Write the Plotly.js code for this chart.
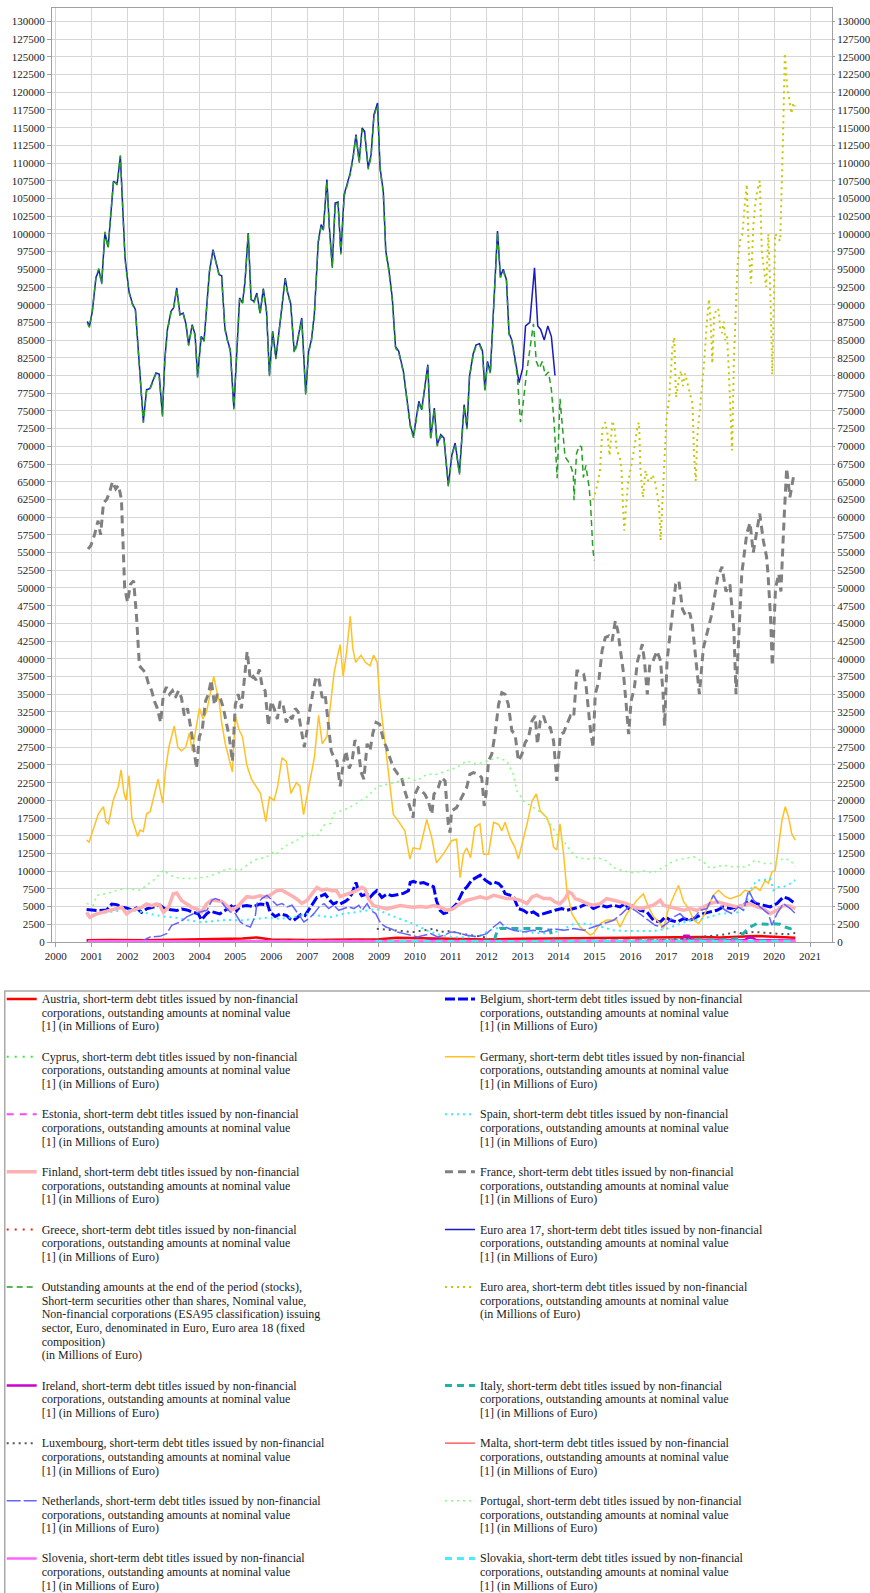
<!DOCTYPE html>
<html>
<head>
<meta charset="utf-8">
<script src="https://cdn.plot.ly/plotly-3.0.1.min.js"></script>
<style>html,body{margin:0;padding:0;background:#fff;}#chart{width:870px;height:1593px;}</style>
</head>
<body>
<div id="chart"></div>
<script>
// ---------- tick labels ----------
const yearTicks = [2000,2001,2002,2003,2004,2005,2006,2007,2008,2009,2010,2011,2012,2013,2014,2015,2016,2017,2018,2019,2020,2021];
const yearLabels = ["2000","2001","2002","2003","2004","2005","2006","2007","2008","2009","2010","2011","2012","2013","2014","2015","2016","2017","2018","2019","2020","2021"];

// ---------- series values: [decimal year, millions of euro] ----------
const austria = [[2000.86,250],[2001.5,300],[2002.5,250],[2003.5,350],[2004.5,450],[2005.2,500],[2005.6,650],[2006.0,350],[2007.0,300],[2008.0,350],[2009.0,400],[2009.5,600],[2010.0,550],[2010.5,500],[2011.0,350],[2012.0,350],[2013.0,450],[2014.0,500],[2015.0,550],[2016.0,600],[2017.0,650],[2017.5,750],[2018.0,700],[2018.5,650],[2019.0,700],[2019.5,850],[2020.0,750],[2020.59,600]];

const belgium = [[2000.86,4580],[2001.14,4440],[2001.42,4530],[2001.56,5370],[2001.70,5280],[2001.84,4900],[2001.97,4810],[2002.11,4530],[2002.25,4810],[2002.39,4200],[2002.53,4670],[2002.72,4900],[2002.90,5200],[2003.04,4670],[2003.18,4530],[2003.37,4440],[2003.51,4670],[2003.65,4530],[2003.83,4200],[2003.97,3970],[2004.06,3130],[2004.20,3970],[2004.30,4340],[2004.43,4200],[2004.57,3970],[2004.71,4440],[2004.85,4900],[2004.95,5370],[2005.04,4440],[2005.13,5000],[2005.32,5140],[2005.50,5000],[2005.69,5370],[2005.83,5280],[2005.88,5600],[2005.97,4200],[2006.11,3600],[2006.25,3970],[2006.43,3740],[2006.52,3270],[2006.62,3040],[2006.76,3600],[2006.85,3970],[2006.94,3740],[2007.13,5280],[2007.27,6300],[2007.41,6540],[2007.50,6770],[2007.64,5840],[2007.73,5370],[2007.82,5600],[2007.92,5370],[2008.06,5740],[2008.15,6070],[2008.24,6770],[2008.36,8400],[2008.43,7240],[2008.52,6540],[2008.66,6770],[2008.75,6300],[2008.85,6860],[2008.94,7240],[2009.08,6300],[2009.22,6770],[2009.36,6540],[2009.50,6680],[2009.68,6860],[2009.82,7240],[2009.87,8400],[2009.96,8550],[2010.10,8270],[2010.24,8400],[2010.42,7940],[2010.52,7800],[2010.60,5840],[2010.70,4480],[2010.80,4010],[2010.94,4250],[2011.03,4720],[2011.17,5420],[2011.35,7310],[2011.45,7780],[2011.58,8730],[2011.82,9430],[2011.96,8730],[2012.10,8250],[2012.19,8490],[2012.33,8250],[2012.42,7780],[2012.51,6840],[2012.65,6600],[2012.74,6460],[2012.88,4720],[2013.02,4480],[2013.16,4010],[2013.30,4250],[2013.44,3770],[2013.58,4010],[2013.72,4250],[2013.90,4480],[2014.09,4720],[2014.23,4480],[2014.42,4720],[2014.60,4950],[2014.79,5420],[2014.97,4720],[2015.16,5190],[2015.34,4950],[2015.53,5190],[2015.71,4950],[2015.85,5420],[2015.95,4720],[2016.09,5190],[2016.27,4480],[2016.46,4250],[2016.64,3070],[2016.83,2830],[2016.97,3540],[2017.11,3070],[2017.30,2830],[2017.48,3300],[2017.66,3070],[2017.85,3540],[2018.03,4010],[2018.22,4250],[2018.41,4480],[2018.59,4950],[2018.78,4720],[2018.96,4950],[2019.15,5190],[2019.33,5900],[2019.52,5420],[2019.70,5190],[2019.89,4950],[2020.08,5420],[2020.26,6370],[2020.40,6130],[2020.54,5660],[2020.59,5420]];

const cyprus = [[2000.90,10],[2006.0,20],[2012.0,30],[2020.59,20]];

const germany = [[2000.86,14400],[2000.93,14100],[2001.05,16000],[2001.19,18100],[2001.33,19100],[2001.40,17000],[2001.47,16700],[2001.60,20000],[2001.74,21900],[2001.82,24300],[2001.90,21000],[2001.96,20000],[2002.04,23500],[2002.12,17500],[2002.28,14900],[2002.35,15800],[2002.44,15600],[2002.53,18100],[2002.63,18400],[2002.77,21400],[2002.85,23000],[2002.98,19600],[2003.05,24000],[2003.15,27500],[2003.30,30500],[2003.40,27500],[2003.50,27000],[2003.62,27500],[2003.72,29500],[2003.80,27000],[2003.90,30000],[2004.00,33000],[2004.10,31500],[2004.20,32500],[2004.30,35000],[2004.40,37500],[2004.48,35500],[2004.55,34000],[2004.62,31000],[2004.72,28000],[2004.82,26000],[2004.92,24000],[2005.00,32000],[2005.10,30000],[2005.20,29000],[2005.32,25000],[2005.45,23000],[2005.58,22000],[2005.70,21000],[2005.85,17000],[2005.95,20500],[2006.08,20000],[2006.18,22000],[2006.30,26000],[2006.42,25500],[2006.55,21000],[2006.70,22500],[2006.80,22000],[2006.90,18000],[2007.05,22000],[2007.20,26000],[2007.32,32000],[2007.42,28000],[2007.55,29000],[2007.62,32000],[2007.75,38000],[2007.85,40500],[2007.92,42000],[2008.00,37500],[2008.10,41000],[2008.20,46000],[2008.27,41500],[2008.35,39500],[2008.50,40500],[2008.62,39500],[2008.75,39000],[2008.85,40500],[2008.95,39500],[2009.02,34500],[2009.20,26500],[2009.40,18000],[2009.55,17000],[2009.72,15700],[2009.86,11700],[2009.95,13300],[2010.14,13100],[2010.33,17300],[2010.47,14700],[2010.60,11200],[2010.79,12400],[2011.02,14300],[2011.16,14500],[2011.26,9100],[2011.35,12400],[2011.44,13300],[2011.55,11900],[2011.67,16200],[2011.81,16700],[2011.91,12400],[2012.05,12400],[2012.19,16900],[2012.33,16600],[2012.42,15700],[2012.51,16900],[2012.65,14700],[2012.79,13300],[2012.88,11700],[2012.98,13800],[2013.12,16600],[2013.26,19900],[2013.38,20900],[2013.49,18500],[2013.67,17600],[2013.77,16200],[2013.86,13400],[2013.95,13000],[2014.04,16700],[2014.14,12400],[2014.23,7300],[2014.37,4000],[2014.60,2100],[2014.88,1000],[2014.97,1200],[2015.16,2600],[2015.34,3100],[2015.62,3100],[2015.71,2100],[2015.90,4000],[2016.04,5000],[2016.18,5900],[2016.36,6800],[2016.50,5000],[2016.64,3600],[2016.83,2600],[2016.92,1900],[2017.06,4700],[2017.20,6400],[2017.34,8000],[2017.48,5700],[2017.62,4700],[2017.76,3100],[2017.90,2600],[2018.03,3600],[2018.17,5000],[2018.31,6600],[2018.45,7300],[2018.64,6400],[2018.78,6100],[2018.92,6400],[2019.05,6600],[2019.19,7300],[2019.33,7100],[2019.47,7800],[2019.61,7300],[2019.75,8700],[2019.84,8300],[2019.94,9900],[2020.03,10100],[2020.12,13400],[2020.22,17200],[2020.31,19100],[2020.40,17700],[2020.49,15300],[2020.59,14400]];

const estonia = [[2000.90,10],[2005.0,20],[2010.0,30],[2015.0,40],[2020.59,30]];

const spain = [[2000.86,3740],[2001.14,3970],[2001.50,4200],[2001.88,4530],[2002.25,4440],[2002.62,3970],[2003.00,3600],[2003.37,3410],[2003.74,3040],[2004.02,2800],[2004.39,2940],[2004.76,3130],[2005.13,3040],[2005.50,3270],[2005.87,3410],[2006.25,3270],[2006.62,3500],[2006.99,3970],[2007.36,3740],[2007.64,3500],[2008.01,3970],[2008.38,4200],[2008.66,4440],[2008.94,4670],[2009.22,3970],[2009.59,3270],[2009.96,2570],[2010.33,1630],[2010.70,1000],[2011.07,650],[2011.45,700],[2011.82,950],[2012.10,1700],[2012.40,2100],[2012.80,1700],[2013.20,1350],[2013.60,1200],[2014.00,1500],[2014.40,2500],[2014.79,2600],[2015.16,2200],[2015.53,1650],[2015.90,1550],[2016.27,1550],[2016.64,1550],[2017.01,1870],[2017.50,2800],[2018.00,3270],[2018.50,3970],[2019.00,4200],[2019.20,4800],[2019.33,7310],[2019.52,8730],[2019.70,8730],[2019.89,8960],[2019.98,7310],[2020.08,7780],[2020.26,7780],[2020.45,8250],[2020.59,8730]];

const finland = [[2000.86,4200],[2000.95,3500],[2001.14,3970],[2001.33,4200],[2001.50,4440],[2001.70,4670],[2001.84,4900],[2001.97,3970],[2002.11,4440],[2002.25,4670],[2002.39,4900],[2002.53,5370],[2002.67,5140],[2002.81,5370],[2002.90,5140],[2003.00,4200],[2003.14,4900],[2003.27,6770],[2003.37,6910],[2003.51,5840],[2003.65,5370],[2003.79,4900],[2003.92,4670],[2004.06,4200],[2004.20,5370],[2004.34,5930],[2004.48,5840],[2004.62,5740],[2004.76,5140],[2004.90,4530],[2005.04,4900],[2005.18,5740],[2005.32,6400],[2005.50,6300],[2005.69,6540],[2005.87,6300],[2006.01,6770],[2006.15,7240],[2006.29,7330],[2006.43,7000],[2006.57,6540],[2006.71,6070],[2006.85,5460],[2006.99,5840],[2007.13,6770],[2007.27,7710],[2007.41,7330],[2007.55,7470],[2007.69,7240],[2007.82,7240],[2007.92,6400],[2008.10,6770],[2008.24,7000],[2008.38,7240],[2008.52,7710],[2008.61,7470],[2008.71,6070],[2008.85,5140],[2009.03,4900],[2009.22,4670],[2009.40,4900],[2009.59,5140],[2009.77,5000],[2009.96,4900],[2010.14,5000],[2010.33,4900],[2010.52,5140],[2010.70,4950],[2010.89,4480],[2011.07,4720],[2011.26,5420],[2011.45,5900],[2011.63,6130],[2011.82,6370],[2012.00,6130],[2012.19,6600],[2012.37,6370],[2012.56,6130],[2012.74,6130],[2012.93,5900],[2013.12,5420],[2013.26,6370],[2013.39,6600],[2013.58,6130],[2013.77,6130],[2013.90,5660],[2014.04,5420],[2014.18,6130],[2014.28,7080],[2014.37,6840],[2014.46,6130],[2014.60,5900],[2014.79,5420],[2014.97,5190],[2015.16,5420],[2015.34,6130],[2015.53,5900],[2015.71,5660],[2015.90,5420],[2016.09,4950],[2016.27,4720],[2016.46,4950],[2016.64,5190],[2016.83,5900],[2016.92,5190],[2017.11,4950],[2017.30,4720],[2017.48,4480],[2017.66,4720],[2017.85,4480],[2018.03,4950],[2018.22,5420],[2018.41,5660],[2018.59,5420],[2018.78,5190],[2018.96,4950],[2019.15,5190],[2019.33,5420],[2019.52,4950],[2019.70,4720],[2019.89,4010],[2020.08,4480],[2020.26,5190],[2020.45,5050],[2020.59,4720]];

const france = [[2000.90,55500],[2000.98,56000],[2001.08,57500],[2001.18,59500],[2001.25,57500],[2001.33,62000],[2001.42,62500],[2001.50,63500],[2001.58,65000],[2001.67,64000],[2001.75,64500],[2001.83,62500],[2001.92,50000],[2002.00,48000],[2002.08,50500],[2002.17,51000],[2002.25,46000],[2002.33,39000],[2002.42,38500],[2002.50,38000],[2002.58,36500],[2002.67,35500],[2002.75,34000],[2002.83,33000],[2002.92,31000],[2003.00,35000],[2003.08,36000],[2003.17,35000],[2003.25,35500],[2003.33,34500],[2003.42,35500],[2003.50,34500],[2003.58,32000],[2003.67,33000],[2003.75,30500],[2003.83,28000],[2003.92,24500],[2004.00,29000],[2004.08,30000],[2004.17,34000],[2004.25,35000],[2004.33,37000],[2004.42,33500],[2004.50,35000],[2004.58,34500],[2004.67,33000],[2004.75,31000],[2004.83,29000],[2004.92,25500],[2005.00,33500],[2005.08,35000],[2005.17,33000],[2005.25,37000],[2005.33,41000],[2005.42,37000],[2005.50,37500],[2005.58,37000],[2005.67,38500],[2005.75,36000],[2005.83,35500],[2005.92,30500],[2006.00,34000],[2006.08,33000],[2006.17,31500],[2006.25,34000],[2006.33,33500],[2006.42,31000],[2006.50,32000],[2006.58,31500],[2006.67,33000],[2006.75,32500],[2006.83,30000],[2006.92,27500],[2007.00,30000],[2007.08,33000],[2007.17,35500],[2007.25,37500],[2007.33,37000],[2007.42,34500],[2007.50,35000],[2007.58,31500],[2007.67,27000],[2007.75,26000],[2007.83,25500],[2007.92,22000],[2008.00,25000],[2008.08,27000],[2008.17,24500],[2008.25,25500],[2008.33,28500],[2008.42,27500],[2008.50,24000],[2008.58,23000],[2008.67,28000],[2008.75,27000],[2008.83,29500],[2008.92,31000],[2009.02,30750],[2009.13,28400],[2009.21,27450],[2009.30,26040],[2009.40,24630],[2009.53,23680],[2009.63,23220],[2009.72,21330],[2009.81,19920],[2009.95,17570],[2010.00,20860],[2010.09,21800],[2010.19,21330],[2010.28,20860],[2010.37,19920],[2010.47,18040],[2010.53,20860],[2010.65,21800],[2010.74,23220],[2010.84,22740],[2010.93,16620],[2010.98,15450],[2011.02,18510],[2011.16,18980],[2011.30,20390],[2011.44,21800],[2011.53,23680],[2011.63,23920],[2011.77,23680],[2011.86,23220],[2011.93,19220],[2011.98,20860],[2012.05,25570],[2012.14,26510],[2012.23,29340],[2012.33,33570],[2012.42,35220],[2012.51,34980],[2012.60,33570],[2012.70,29810],[2012.79,29340],[2012.88,25570],[2012.98,26510],[2013.07,28160],[2013.16,28870],[2013.26,31220],[2013.35,31930],[2013.41,27920],[2013.49,31220],[2013.58,31930],[2013.67,30510],[2013.77,30280],[2013.86,28400],[2013.95,22750],[2014.05,29340],[2014.14,29570],[2014.23,30750],[2014.33,31930],[2014.42,31690],[2014.51,38280],[2014.60,38280],[2014.70,37810],[2014.77,35930],[2014.88,30280],[2014.96,27450],[2015.02,34980],[2015.12,36870],[2015.21,41100],[2015.30,42990],[2015.40,43230],[2015.49,42520],[2015.58,45350],[2015.65,43930],[2015.70,42050],[2015.80,38280],[2015.89,33100],[2015.95,29340],[2016.02,34050],[2016.11,35930],[2016.20,39690],[2016.33,42050],[2016.39,39690],[2016.47,34980],[2016.54,39220],[2016.63,39690],[2016.74,41100],[2016.84,39690],[2016.91,34980],[2016.95,30510],[2017.02,39690],[2017.16,45810],[2017.26,50530],[2017.35,51000],[2017.45,47000],[2017.55,46000],[2017.65,46500],[2017.72,45000],[2017.80,41000],[2017.92,35000],[2018.03,41500],[2018.15,44000],[2018.25,46000],[2018.35,49000],[2018.43,51500],[2018.55,53000],[2018.66,49500],[2018.77,50500],[2018.88,44000],[2018.94,35000],[2019.05,47000],[2019.10,52000],[2019.24,57700],[2019.33,59200],[2019.42,55000],[2019.51,58000],[2019.60,60500],[2019.70,56700],[2019.79,54400],[2019.83,52000],[2019.90,46000],[2019.95,39000],[2020.04,50000],[2020.13,52000],[2020.19,49500],[2020.28,60000],[2020.35,66900],[2020.40,64700],[2020.44,62800],[2020.54,65700],[2020.58,65400]];

const greece = [[2000.90,100],[2004.0,120],[2008.0,150],[2011.0,60],[2014.0,40],[2017.0,30],[2020.59,30]];

const euroArea17 = [[2000.88,87650],[2000.94,86950],[2001.02,89060],[2001.12,93770],[2001.20,94950],[2001.28,93070],[2001.37,100130],[2001.46,98150],[2001.61,107430],[2001.71,107050],[2001.80,110960],[2001.93,96600],[2002.04,91890],[2002.13,90240],[2002.22,89300],[2002.33,82000],[2002.44,73530],[2002.53,78000],[2002.62,78140],[2002.79,80350],[2002.88,80210],[2002.97,74470],[2003.04,82470],[2003.11,86470],[2003.21,89060],[2003.28,89530],[2003.37,92360],[2003.46,88600],[2003.55,88830],[2003.63,87180],[2003.70,84360],[2003.80,87180],[2003.88,85770],[2003.95,79880],[2004.05,85530],[2004.13,84920],[2004.28,94720],[2004.38,97770],[2004.46,96130],[2004.55,94250],[2004.62,94100],[2004.71,86710],[2004.79,84830],[2004.86,83650],[2004.96,75410],[2005.04,83180],[2005.12,90950],[2005.20,90240],[2005.27,93300],[2005.36,100130],[2005.44,90710],[2005.52,90480],[2005.60,91650],[2005.69,88830],[2005.78,92270],[2005.87,89060],[2005.95,80120],[2006.04,86240],[2006.13,82470],[2006.25,87650],[2006.39,93770],[2006.46,91650],[2006.54,90240],[2006.64,83410],[2006.71,84360],[2006.85,88120],[2006.96,77530],[2007.04,83410],[2007.12,85060],[2007.20,88600],[2007.31,98950],[2007.39,101310],[2007.45,100600],[2007.55,107660],[2007.62,100840],[2007.70,95420],[2007.78,104370],[2007.86,104510],[2007.94,97300],[2008.03,105550],[2008.13,107430],[2008.20,108610],[2008.28,110960],[2008.36,114020],[2008.45,110250],[2008.53,114960],[2008.60,114490],[2008.70,109310],[2008.78,111190],[2008.86,116840],[2008.96,118490],[2009.03,109310],[2009.12,106020],[2009.19,97550],[2009.27,95190],[2009.37,90950],[2009.46,84120],[2009.55,83410],[2009.68,80590],[2009.79,76350],[2009.87,73060],[2009.96,71410],[2010.03,74000],[2010.11,76350],[2010.19,75180],[2010.36,81530],[2010.44,71180],[2010.54,75410],[2010.62,70230],[2010.72,71640],[2010.81,71180],[2010.93,64500],[2011.03,68820],[2011.12,70470],[2011.24,66230],[2011.37,75880],[2011.45,72590],[2011.52,79880],[2011.62,83000],[2011.70,84300],[2011.80,84500],[2011.88,83500],[2011.95,78000],[2012.02,82000],[2012.10,80500],[2012.20,90000],[2012.30,100400],[2012.38,94000],[2012.46,95000],[2012.55,93500],[2012.62,86000],[2012.70,85000],[2012.80,82000],[2012.90,79000],[2013.00,81000],[2013.08,87000],[2013.20,87500],[2013.33,95200],[2013.42,87000],[2013.50,86500],[2013.60,85000],[2013.70,87000],[2013.80,85500],[2013.90,80000]];

const euroArea18 = [[2000.88,87400],[2000.94,86800],[2001.02,89200],[2001.12,93900],[2001.20,95100],[2001.28,92900],[2001.37,100300],[2001.46,98000],[2001.61,107600],[2001.71,106900],[2001.80,111100],[2001.93,96400],[2002.04,91700],[2002.13,90100],[2002.22,89100],[2002.33,81800],[2002.44,73300],[2002.53,77800],[2002.62,78000],[2002.79,80200],[2002.88,80000],[2002.97,74200],[2003.04,82300],[2003.11,86300],[2003.21,88900],[2003.28,89400],[2003.37,92200],[2003.46,88400],[2003.55,88700],[2003.63,87000],[2003.70,84200],[2003.80,87000],[2003.88,85600],[2003.95,79700],[2004.05,85400],[2004.13,84800],[2004.28,94600],[2004.38,97600],[2004.46,96000],[2004.55,94100],[2004.62,93900],[2004.71,86500],[2004.79,84700],[2004.86,83500],[2004.96,75200],[2005.04,83000],[2005.12,90800],[2005.20,90100],[2005.27,93100],[2005.36,100000],[2005.44,90500],[2005.52,90300],[2005.60,91500],[2005.69,88700],[2005.78,92100],[2005.87,88900],[2005.95,79900],[2006.04,86100],[2006.13,82300],[2006.25,87500],[2006.39,93600],[2006.46,91500],[2006.54,90100],[2006.64,83200],[2006.71,84200],[2006.85,87900],[2006.96,77300],[2007.04,83200],[2007.12,84900],[2007.20,88400],[2007.31,98700],[2007.39,101000],[2007.45,100400],[2007.55,107400],[2007.62,100600],[2007.70,95200],[2007.78,104100],[2007.86,104300],[2007.94,97100],[2008.03,105300],[2008.13,107200],[2008.20,108400],[2008.28,110700],[2008.36,113800],[2008.45,110000],[2008.53,114700],[2008.60,114200],[2008.70,109100],[2008.78,110900],[2008.86,116600],[2008.96,118200],[2009.03,109100],[2009.12,105800],[2009.19,97300],[2009.27,94900],[2009.37,90700],[2009.46,83900],[2009.55,83200],[2009.68,80400],[2009.79,76100],[2009.87,72800],[2009.96,71200],[2010.03,73800],[2010.11,76100],[2010.19,75000],[2010.36,81300],[2010.44,71000],[2010.54,75200],[2010.62,70000],[2010.72,71400],[2010.81,71000],[2010.93,64300],[2011.03,68600],[2011.12,70300],[2011.24,66000],[2011.37,75700],[2011.45,72400],[2011.52,79700],[2011.62,82800],[2011.70,84100],[2011.80,84300],[2011.88,83300],[2011.95,77800],[2012.02,81800],[2012.10,80300],[2012.20,89800],[2012.30,100200],[2012.38,93800],[2012.46,94800],[2012.55,93300],[2012.62,85800],[2012.70,84800],[2012.80,81800],[2012.85,80000],[2012.94,73400],[2013.00,75500],[2013.10,80000],[2013.20,83500],[2013.30,87300],[2013.38,82000],[2013.46,81000],[2013.55,82000],[2013.63,80000],[2013.72,80500],[2013.80,78000],[2013.88,73000],[2013.96,65500],[2014.04,76700],[2014.09,74100],[2014.18,68500],[2014.32,67500],[2014.41,66100],[2014.43,62400],[2014.50,69000],[2014.58,70100],[2014.64,69900],[2014.69,65600],[2014.76,67300],[2014.85,64200],[2014.89,61900],[2014.95,55800],[2014.99,53900]];

const euroArea = [[2014.96,62400],[2015.06,64200],[2015.15,66400],[2015.22,72500],[2015.30,73400],[2015.36,71800],[2015.42,68700],[2015.50,73600],[2015.56,72500],[2015.62,69500],[2015.70,68500],[2015.75,67000],[2015.79,61900],[2015.83,58100],[2015.93,64700],[2016.00,66600],[2016.10,69500],[2016.20,72900],[2016.24,73400],[2016.28,66600],[2016.35,62800],[2016.42,66600],[2016.50,65000],[2016.56,65200],[2016.62,66000],[2016.70,64700],[2016.80,61400],[2016.84,56700],[2016.93,66600],[2017.00,73600],[2017.08,76900],[2017.12,79800],[2017.17,84000],[2017.22,85400],[2017.27,76900],[2017.36,79700],[2017.41,80700],[2017.46,78500],[2017.52,80300],[2017.57,79300],[2017.63,78000],[2017.68,76900],[2017.73,75900],[2017.77,68900],[2017.82,65100],[2017.86,71200],[2017.93,75000],[2018.00,77900],[2018.05,81700],[2018.14,88300],[2018.19,90800],[2018.24,87000],[2018.28,81700],[2018.33,88300],[2018.40,89500],[2018.46,89200],[2018.50,86500],[2018.55,86000],[2018.60,87600],[2018.64,85000],[2018.69,85600],[2018.73,81700],[2018.78,74600],[2018.83,69400],[2018.88,82000],[2018.93,90000],[2018.98,95500],[2019.05,99000],[2019.12,100000],[2019.18,104000],[2019.24,107000],[2019.30,97000],[2019.36,93000],[2019.42,101000],[2019.48,104500],[2019.55,106500],[2019.60,107500],[2019.66,97500],[2019.72,95000],[2019.78,92500],[2019.84,100000],[2019.90,91000],[2019.95,80100],[2020.03,100000],[2020.10,99500],[2020.17,99000],[2020.24,112000],[2020.30,125500],[2020.36,121000],[2020.42,119000],[2020.48,117000],[2020.54,118500],[2020.58,118000]];

const ireland = [[2000.90,0],[2003.0,50],[2008.0,100],[2010.30,100],[2010.40,250],[2010.60,250],[2010.70,100],[2017.40,150],[2017.50,900],[2017.62,900],[2017.70,200],[2019.20,300],[2019.30,650],[2019.40,600],[2019.50,250],[2020.59,200]];

const italy = [[2000.90,80],[2003.0,80],[2006.0,90],[2009.0,80],[2012.20,100],[2012.30,1700],[2012.37,1890],[2012.74,1890],[2013.12,1890],[2013.49,1890],[2013.77,1650],[2013.85,150],[2015.0,150],[2017.0,200],[2018.5,300],[2019.0,500],[2019.15,1180],[2019.33,2120],[2019.52,2590],[2019.80,2500],[2019.98,2590],[2020.17,2500],[2020.31,2120],[2020.45,1890],[2020.59,2260]];

const luxembourg = [[2008.94,1870],[2009.22,1730],[2009.59,1630],[2009.96,1400],[2010.33,1730],[2010.52,1870],[2010.70,1420],[2010.98,1560],[2011.26,1180],[2011.63,940],[2011.91,710],[2012.10,330],[2012.50,150],[2013.50,100],[2014.50,80],[2015.50,120],[2016.50,200],[2017.20,330],[2017.57,470],[2017.94,710],[2018.31,940],[2018.68,1080],[2018.87,1420],[2019.15,1180],[2019.43,1420],[2019.80,1270],[2020.08,1180],[2020.36,1080],[2020.59,1270]];

const malta = [[2000.90,30],[2004.0,40],[2008.0,50],[2012.0,60],[2016.0,80],[2020.59,90]];

const netherlands = [[2000.86,50],[2001.50,80],[2002.00,100],[2002.40,150],[2002.63,700],[2002.90,800],[2003.09,1180],[2003.23,2360],[2003.47,2830],[2003.65,3540],[2003.84,4010],[2004.02,4250],[2004.21,4480],[2004.35,5900],[2004.44,6130],[2004.58,5900],[2004.72,4950],[2004.86,4250],[2005.00,4010],[2005.14,2830],[2005.28,2360],[2005.42,2120],[2005.56,3770],[2005.60,5420],[2005.74,6130],[2005.88,6600],[2006.02,5900],[2006.16,5190],[2006.30,5420],[2006.44,4950],[2006.58,5190],[2006.72,4250],[2006.91,2830],[2007.05,3300],[2007.19,4010],[2007.33,4950],[2007.47,5420],[2007.60,4720],[2007.74,5190],[2007.88,4480],[2008.02,4720],[2008.16,4950],[2008.30,4720],[2008.44,5190],[2008.53,4480],[2008.67,5420],[2008.77,4480],[2008.91,4010],[2009.05,2590],[2009.19,2120],[2009.33,1890],[2009.51,1420],[2009.70,1180],[2009.88,940],[2010.07,710],[2010.26,940],[2010.44,1180],[2010.63,710],[2010.81,940],[2011.00,1420],[2011.20,1300],[2011.45,940],[2011.72,710],[2012.00,1180],[2012.19,2120],[2012.37,2830],[2012.51,2120],[2012.74,1650],[2013.02,1420],[2013.30,1650],[2013.58,1420],[2013.86,1890],[2014.14,1650],[2014.42,1890],[2014.70,1650],[2014.97,2120],[2015.25,2590],[2015.53,3070],[2015.76,4010],[2015.95,4950],[2016.13,4480],[2016.32,3770],[2016.50,3070],[2016.69,2360],[2016.87,2120],[2017.01,2590],[2017.20,3540],[2017.38,4010],[2017.57,3070],[2017.76,3300],[2017.94,4480],[2018.13,4720],[2018.31,6600],[2018.45,5420],[2018.64,4480],[2018.82,4010],[2019.00,4950],[2019.15,4480],[2019.29,7310],[2019.43,5900],[2019.61,4950],[2019.84,4010],[2019.94,2360],[2020.08,4010],[2020.26,5420],[2020.45,4720],[2020.59,4010]];

const portugal = [[2000.86,5420],[2001.05,5190],[2001.14,6600],[2001.42,6840],[2001.70,7310],[2001.98,7550],[2002.35,7310],[2002.72,8730],[2003.00,10140],[2003.19,9430],[2003.47,8960],[2003.84,8960],[2004.21,9200],[2004.49,9670],[2004.77,10380],[2005.14,10140],[2005.51,11560],[2005.88,12030],[2006.07,12740],[2006.16,12500],[2006.35,13440],[2006.72,14390],[2007.00,15330],[2007.28,14860],[2007.47,16510],[2007.65,16750],[2007.74,18160],[2008.12,18870],[2008.30,19340],[2008.67,20520],[2008.95,21930],[2009.33,22400],[2009.60,22750],[2009.77,23220],[2010.05,22750],[2010.33,23680],[2010.60,23680],[2010.88,24160],[2011.16,24630],[2011.44,25570],[2011.72,25100],[2012.00,25570],[2012.28,26040],[2012.56,25570],[2012.74,23680],[2012.84,21330],[2013.02,19920],[2013.30,18980],[2013.58,18040],[2013.77,16620],[2013.95,15210],[2014.14,14270],[2014.33,12860],[2014.51,11920],[2014.79,11690],[2015.07,11920],[2015.35,11450],[2015.53,10510],[2015.81,10030],[2016.09,9800],[2016.37,10030],[2016.65,9800],[2016.93,10600],[2017.21,11450],[2017.50,11800],[2017.76,12030],[2018.03,11320],[2018.22,10380],[2018.59,10850],[2018.87,10610],[2019.24,10610],[2019.47,11560],[2019.70,11080],[2019.98,11080],[2020.26,11790],[2020.45,11560],[2020.59,10610]];

const slovenia = [[2000.90,100],[2005.0,120],[2009.0,150],[2013.0,100],[2017.0,120],[2020.59,150]];
const slovakia = [[2008.90,60],[2012.0,80],[2016.0,100],[2020.59,120]];

// ---------- legend texts ----------
function countryText(c) {
  return c + ', short-term debt titles issued by non-financial<br>corporations, outstanding amounts at nominal value<br>[1] (in Millions of Euro)';
}
const ea18Text = 'Outstanding amounts at the end of the period (stocks),<br>Short-term securities other than shares, Nominal value,<br>Non-financial corporations (ESA95 classification) issuing<br>sector, Euro, denominated in Euro, Euro area 18 (fixed<br>composition)<br>(in Millions of Euro)';
const eaText = 'Euro area, short-term debt titles issued by non-financial<br>corporations, outstanding amounts at nominal value<br>(in Millions of Euro)';

function label(txt, blank) {
  return '<span style="font-size:12px">' + txt + '</span>' + '<br> '.repeat(blank);
}

function series(data, name, legendId, color, width, dash, blank, yaxis) {
  return {
    type: 'scatter', mode: 'lines',
    x: data.map(p => p[0]), y: data.map(p => p[1]),
    name: label(name, blank === undefined ? 1 : blank),
    legend: legendId,
    yaxis: yaxis || 'y',
    line: {color: color, width: width, dash: dash || 'solid'},
    hoverinfo: 'skip'
  };
}

const traces = [
  series(austria, countryText('Austria'), 'legend', '#ff0000', 2.5, 'solid'),
  series(belgium, countryText('Belgium'), 'legend2', '#0000ff', 3, '10px,3px'),
  series(cyprus, countryText('Cyprus'), 'legend', '#33ee33', 2, '2px,6px'),
  series(germany, countryText('Germany'), 'legend2', '#ffc125', 1.5, 'solid'),
  series(estonia, countryText('Estonia'), 'legend', '#ff44ff', 2, '7px,6px'),
  series(spain, countryText('Spain'), 'legend2', '#33eeff', 2, '2px,4px'),
  series(finland, countryText('Finland'), 'legend', '#ffb0b0', 3.5, 'solid'),
  series(france, countryText('France'), 'legend2', '#808080', 3, '8px,5px'),
  series(greece, countryText('Greece'), 'legend', '#dd2222', 2, '2px,6px'),
  series(euroArea17, countryText('Euro area 17'), 'legend2', '#1a1ac0', 1.5, 'solid'),
  series(euroArea18, ea18Text, 'legend', '#22a022', 1.5, '6px,4px'),
  series(euroArea, eaText, 'legend2', '#c8c800', 2, '2px,4px', 4, 'y2'),
  series(ireland, countryText('Ireland'), 'legend', '#cc00cc', 2.5, 'solid'),
  series(italy, countryText('Italy'), 'legend2', '#20b2aa', 3, '7px,5px'),
  series(luxembourg, countryText('Luxembourg'), 'legend', '#555555', 2, '2px,4px'),
  series(malta, countryText('Malta'), 'legend2', '#ff4040', 1.2, 'solid'),
  series(netherlands, countryText('Netherlands'), 'legend', '#6464ff', 1.5, '14px,3px'),
  series(portugal, countryText('Portugal'), 'legend2', '#80ff80', 1.5, '2px,4px'),
  series(slovenia, countryText('Slovenia'), 'legend', '#ff66ff', 2.5, 'solid'),
  series(slovakia, countryText('Slovakia'), 'legend2', '#44eeff', 3, '7px,5px')
];

const serif = '"Liberation Serif", "Times New Roman", Times, serif';
const tickFont = {family: serif, size: 11, color: '#222'};
const legendFont = {family: serif, size: 10.5, color: '#222'};
const yMax = 131900;

const layout = {
  width: 870, height: 1593,
  margin: {l: 52, r: 38, t: 8, b: 651, autoexpand: false},
  paper_bgcolor: '#ffffff', plot_bgcolor: '#ffffff',
  font: tickFont,
  showlegend: true,
  xaxis: {
    range: [1999.897, 2021.612], tickmode: 'array', tickvals: yearTicks, ticktext: yearLabels,
    showgrid: true, gridcolor: '#d6d6d6', gridwidth: 1,
    showline: true, linecolor: '#a0a0a0', linewidth: 1, mirror: true,
    ticks: 'outside', ticklen: 4, tickcolor: '#a0a0a0',
    zeroline: false, tickfont: tickFont, fixedrange: true
  },
  yaxis: {
    range: [0, yMax], tick0: 0, dtick: 2500, tickformat: 'd',
    showgrid: true, gridcolor: '#d6d6d6', gridwidth: 1,
    showline: true, linecolor: '#a0a0a0', linewidth: 1,
    ticks: 'outside', ticklen: 4, tickcolor: '#a0a0a0',
    zeroline: false, tickfont: tickFont, fixedrange: true
  },
  yaxis2: {
    overlaying: 'y', side: 'right',
    range: [0, yMax], tick0: 0, dtick: 2500, tickformat: 'd',
    showgrid: false, showline: true, linecolor: '#a0a0a0', linewidth: 1,
    ticks: 'outside', ticklen: 2, tickcolor: '#a0a0a0',
    zeroline: false, tickfont: tickFont, fixedrange: true
  },
  legend: {
    xref: 'paper', yref: 'paper', x: -0.0645, xanchor: 'left', y: -0.0468, yanchor: 'top',
    orientation: 'v', valign: 'top', traceorder: 'normal',
    bgcolor: 'rgba(0,0,0,0)', borderwidth: 0, font: legendFont, itemwidth: 30
  },
  legend2: {
    xref: 'paper', yref: 'paper', x: 0.4974, xanchor: 'left', y: -0.0468, yanchor: 'top',
    orientation: 'v', valign: 'top', traceorder: 'normal',
    bgcolor: 'rgba(0,0,0,0)', borderwidth: 0, font: legendFont, itemwidth: 30
  },
  shapes: [{
    type: 'rect', xref: 'paper', yref: 'paper',
    x0: -0.0606, x1: 1.08, y0: -0.0525, y1: -0.72,
    line: {color: '#a8a8a8', width: 1.5}, fillcolor: 'rgba(0,0,0,0)', layer: 'below'
  }],
  hovermode: false
};

Plotly.newPlot('chart', traces, layout, {staticPlot: true, displayModeBar: false});
</script>
</body>
</html>
